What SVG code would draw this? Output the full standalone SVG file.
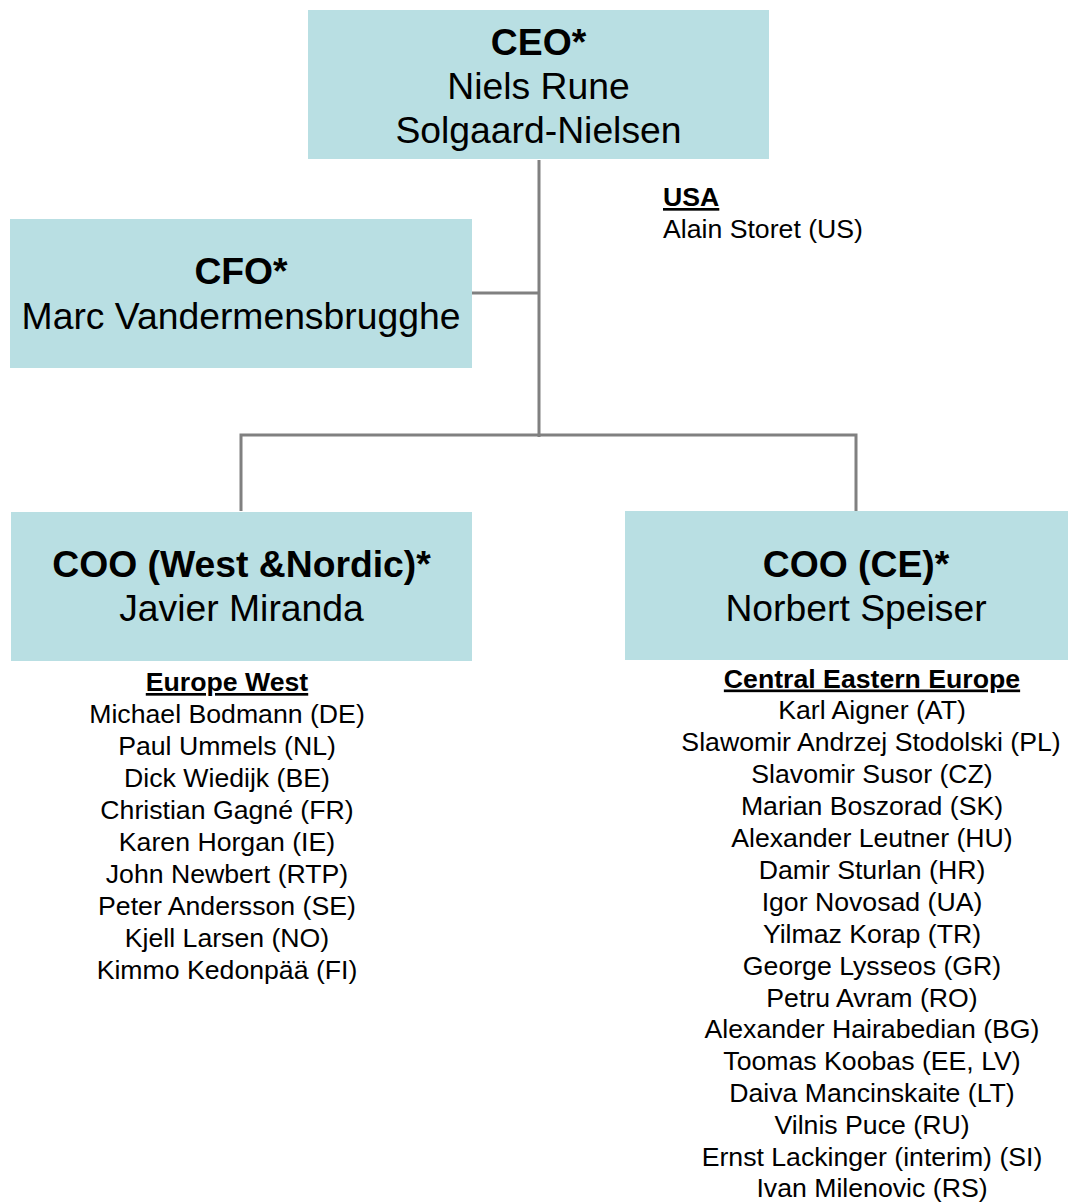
<svg xmlns="http://www.w3.org/2000/svg" width="1068" height="1203" viewBox="0 0 1068 1203">
<style>
.box{fill:#B9DFE3;}
.t{font-family:"Liberation Sans",Arial,sans-serif;fill:#000;}
.big{font-size:37.3px;text-anchor:middle;}
.b{font-weight:bold;}
.sm{font-size:26.67px;}
.c{text-anchor:middle;}
.u{text-decoration:underline;}
.conn{fill:none;stroke:#808080;stroke-width:3;}
</style>
<rect width="1068" height="1203" fill="#fff"/>
<g id="connectors">
<path class="conn" d="M539,160 V437"/>
<path class="conn" d="M472,293 H539"/>
<path class="conn" d="M241,511 V435 H856 V511"/>
</g>
<g id="ceo">
<rect class="box" x="308" y="10" width="461" height="149"/>
<text class="t big b" x="538.5" y="55">CEO*</text>
<text class="t big" x="538.5" y="99">Niels Rune</text>
<text class="t big" x="538.5" y="143">Solgaard-Nielsen</text>
</g>
<g id="cfo">
<rect class="box" x="10" y="219" width="462" height="149"/>
<text class="t big b" x="241" y="284">CFO*</text>
<text class="t big" x="241" y="329">Marc Vandermensbrugghe</text>
</g>
<g id="usa">
<text class="t sm b u" x="663" y="206">USA</text>
<text class="t sm" x="663" y="238">Alain Storet (US)</text>
</g>
<g id="coo-west">
<rect class="box" x="11" y="512" width="461" height="149"/>
<text class="t big b" x="241.5" y="577">COO (West &amp;Nordic)*</text>
<text class="t big" x="241.5" y="621">Javier Miranda</text>
</g>
<g id="coo-ce">
<rect class="box" x="625" y="511" width="461" height="149"/>
<text class="t big b" x="856" y="577">COO (CE)*</text>
<text class="t big" x="856" y="621">Norbert Speiser</text>
</g>
<g id="europe-west">
<text class="t sm b u c" x="227" y="691">Europe West</text>
<text class="t sm c" x="227" y="723">Michael Bodmann (DE)</text>
<text class="t sm c" x="227" y="755">Paul Ummels (NL)</text>
<text class="t sm c" x="227" y="787">Dick Wiedijk (BE)</text>
<text class="t sm c" x="227" y="819">Christian Gagné (FR)</text>
<text class="t sm c" x="227" y="851">Karen Horgan (IE)</text>
<text class="t sm c" x="227" y="883">John Newbert (RTP)</text>
<text class="t sm c" x="227" y="915">Peter Andersson (SE)</text>
<text class="t sm c" x="227" y="947">Kjell Larsen (NO)</text>
<text class="t sm c" x="227" y="979">Kimmo Kedonpää (FI)</text>
</g>
<g id="central-eastern-europe">
<text class="t sm b u c" x="872" y="687.5">Central Eastern Europe</text>
<text class="t sm c" x="872" y="719.4">Karl Aigner (AT)</text>
<text class="t sm c" x="871" y="751.3">Slawomir Andrzej Stodolski (PL)</text>
<text class="t sm c" x="872" y="783.2">Slavomir Susor (CZ)</text>
<text class="t sm c" x="872" y="815.1">Marian Boszorad (SK)</text>
<text class="t sm c" x="872" y="847">Alexander Leutner (HU)</text>
<text class="t sm c" x="872" y="878.9">Damir Sturlan (HR)</text>
<text class="t sm c" x="872" y="910.8">Igor Novosad (UA)</text>
<text class="t sm c" x="872" y="942.7">Yilmaz Korap (TR)</text>
<text class="t sm c" x="872" y="974.6">George Lysseos (GR)</text>
<text class="t sm c" x="872" y="1006.5">Petru Avram (RO)</text>
<text class="t sm c" x="872" y="1038.4">Alexander Hairabedian (BG)</text>
<text class="t sm c" x="872" y="1070.3">Toomas Koobas (EE, LV)</text>
<text class="t sm c" x="872" y="1102.2">Daiva Mancinskaite (LT)</text>
<text class="t sm c" x="872" y="1134.1">Vilnis Puce (RU)</text>
<text class="t sm c" x="872" y="1166">Ernst Lackinger (interim) (SI)</text>
<text class="t sm c" x="872" y="1197">Ivan Milenovic (RS)</text>
</g>
</svg>
